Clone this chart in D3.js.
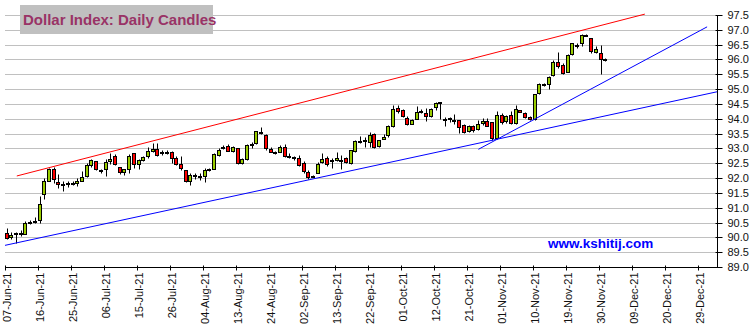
<!DOCTYPE html>
<html>
<head>
<meta charset="utf-8">
<script src="https://cdn.jsdelivr.net/npm/d3@7"></script>
<style>
  html, body { margin: 0; padding: 0; background: #ffffff; }
  svg { display: block; font-family: "Liberation Sans", Arial, sans-serif; }
</style>
</head>
<body>
<svg id="chart" width="753" height="334"></svg>
<script>
// Dollar Index daily candles, trading days from 07-Jun-21 (index 0) to 01-Dec-21
const opens = [
  90.13, 90.00, 90.13, 90.12, 90.11, 90.52, 90.53, 90.59, 91.47, 91.89,
  92.29, 91.88, 91.80, 91.84, 91.84, 91.83, 91.89, 92.09, 92.45, 92.58,
  92.27, 92.31, 92.57, 92.73, 92.38, 92.20, 92.30, 92.83, 92.46, 92.60,
  92.72, 92.92, 92.99, 92.88, 92.87, 92.88, 92.67, 92.48, 92.28, 91.90,
  92.08, 92.08, 92.07, 92.28, 92.30, 92.79, 93.04, 93.09, 92.90, 93.01,
  92.51, 92.64, 93.15, 93.18, 93.54, 93.44, 92.99, 92.87, 92.88, 93.04,
  92.73, 92.70, 92.67, 92.50, 92.21, 92.05, 92.20, 92.54, 92.69, 92.60,
  92.60, 92.60, 92.66, 92.49, 92.90, 93.24, 93.26, 93.22, 93.48, 93.09,
  93.33, 93.44, 93.75, 94.35, 94.28, 94.01, 93.84, 94.01, 94.24, 94.21,
  94.07, 94.38, 94.56, 93.99, 94.00, 93.95, 93.96, 93.80, 93.59, 93.75,
  93.64, 93.87, 93.94, 93.89, 93.35, 94.12, 93.92, 94.12, 93.87, 94.31,
  94.21, 94.06, 93.98, 94.85, 95.16, 95.16, 95.47, 95.93, 95.81, 95.59,
  96.18, 96.47, 96.55, 96.83, 96.72, 96.24, 96.21, 96.01
];
const highs = [
  90.30, 90.17, 90.19, 90.25, 90.55, 90.59, 90.70, 91.40, 92.00, 92.34,
  92.38, 92.15, 91.89, 91.91, 91.89, 92.00, 92.23, 92.51, 92.65, 92.58,
  92.32, 92.65, 92.85, 92.80, 92.38, 92.32, 92.80, 92.85, 92.65, 92.74,
  93.05, 93.19, 93.19, 92.96, 92.93, 92.90, 92.73, 92.75, 92.28, 92.16,
  92.16, 92.16, 92.33, 92.33, 92.84, 93.01, 93.13, 93.16, 93.07, 93.01,
  92.67, 93.15, 93.21, 93.60, 93.73, 93.47, 93.04, 92.92, 93.10, 93.15,
  92.84, 92.73, 92.79, 92.56, 92.28, 92.11, 92.54, 92.83, 92.74, 92.69,
  92.88, 92.77, 92.71, 92.96, 93.28, 93.43, 93.39, 93.54, 93.53, 93.30,
  93.47, 93.79, 94.45, 94.47, 94.32, 94.09, 93.98, 94.43, 94.32, 94.35,
  94.35, 94.58, 94.57, 94.07, 94.05, 94.16, 93.96, 93.84, 93.78, 93.78,
  93.95, 94.01, 94.01, 93.89, 94.25, 94.18, 94.12, 94.25, 94.48, 94.31,
  94.23, 94.10, 94.85, 95.19, 95.19, 95.44, 95.98, 96.24, 95.87, 96.18,
  96.57, 96.55, 96.86, 96.85, 96.74, 96.44, 96.49, 96.05
];
const lows = [
  89.93, 89.96, 89.82, 90.04, 90.11, 90.45, 90.47, 90.47, 91.30, 91.89,
  91.83, 91.66, 91.55, 91.70, 91.78, 91.74, 91.89, 92.04, 92.38, 92.26,
  92.17, 92.06, 92.48, 92.43, 92.15, 92.12, 92.17, 92.34, 92.31, 92.58,
  92.68, 92.89, 92.74, 92.79, 92.81, 92.50, 92.45, 92.28, 91.88, 91.77,
  91.97, 91.94, 91.86, 92.24, 92.30, 92.76, 92.99, 92.90, 92.88, 92.48,
  92.49, 92.62, 93.01, 93.16, 93.47, 92.96, 92.88, 92.81, 92.87, 92.70,
  92.67, 92.62, 92.39, 92.16, 91.98, 92.02, 92.17, 92.52, 92.40, 92.35,
  92.57, 92.32, 92.52, 92.49, 92.88, 93.19, 93.05, 93.05, 93.00, 93.05,
  93.31, 93.39, 93.73, 94.18, 94.05, 93.79, 93.82, 93.98, 94.18, 93.94,
  94.05, 94.30, 94.00, 93.77, 93.90, 93.84, 93.53, 93.53, 93.55, 93.55,
  93.61, 93.78, 93.76, 93.27, 93.33, 93.84, 93.86, 93.82, 93.84, 94.23,
  94.03, 93.95, 93.95, 94.83, 95.11, 95.00, 95.45, 95.70, 95.51, 95.59,
  96.15, 96.38, 96.46, 96.80, 96.21, 96.21, 95.50, 95.96
];
const closes = [
  89.96, 90.08, 90.12, 90.13, 90.47, 90.53, 90.56, 91.12, 91.91, 92.29,
  91.95, 91.80, 91.79, 91.83, 91.85, 91.91, 92.04, 92.45, 92.62, 92.30,
  92.26, 92.55, 92.65, 92.45, 92.20, 92.30, 92.75, 92.46, 92.60, 92.70,
  92.90, 92.99, 92.79, 92.87, 92.86, 92.67, 92.47, 92.33, 91.90, 92.11,
  92.09, 92.07, 92.27, 92.29, 92.81, 92.96, 93.05, 92.93, 93.05, 92.50,
  92.65, 93.12, 93.16, 93.58, 93.49, 92.99, 92.90, 92.88, 93.06, 92.72,
  92.72, 92.69, 92.45, 92.22, 92.04, 92.07, 92.49, 92.63, 92.49, 92.61,
  92.66, 92.61, 92.54, 92.94, 93.24, 93.25, 93.27, 93.45, 93.05, 93.28,
  93.39, 93.75, 94.32, 94.24, 94.07, 93.81, 93.96, 94.24, 94.25, 94.11,
  94.32, 94.52, 94.52, 94.00, 94.01, 93.96, 93.73, 93.55, 93.75, 93.63,
  93.81, 93.93, 93.78, 93.35, 94.12, 93.89, 94.09, 93.86, 94.34, 94.25,
  94.06, 93.98, 94.83, 95.16, 95.17, 95.40, 95.90, 95.81, 95.53, 96.15,
  96.55, 96.48, 96.83, 96.81, 96.27, 96.34, 96.01, 96.00
];

// Date labels, one every seven trading days
const tickLabels = [
  "07-Jun-21", "16-Jun-21", "25-Jun-21", "06-Jul-21", "15-Jul-21", "26-Jul-21",
  "04-Aug-21", "13-Aug-21", "24-Aug-21", "02-Sep-21", "13-Sep-21", "22-Sep-21",
  "01-Oct-21", "12-Oct-21", "21-Oct-21", "01-Nov-21", "10-Nov-21", "19-Nov-21",
  "30-Nov-21", "09-Dec-21", "20-Dec-21", "29-Dec-21"
];
const tickStep = 7;

// Price scale labels
const priceTicks = [89.0, 89.5, 90.0, 90.5, 91.0, 91.5, 92.0, 92.5, 93.0, 93.5,
                    94.0, 94.5, 95.0, 95.5, 96.0, 96.5, 97.0, 97.5];

// Trend lines: [trading-day index, price] end points
const upperChannel = [[2.5, 92.07], [135.7, 97.53]];
const lowerChannel = [[0.0, 89.73], [151.0, 94.91]];
const novemberSupport = [[100.4, 92.97], [148.9, 97.10]];

const title = "Dollar Index: Daily Candles";
const site = "www.kshitij.com";

const candles = opens.map((o, i) => ({ i, o, h: highs[i], l: lows[i], c: closes[i] }));

const svg = d3.select("#chart");

const x = d3.scaleLinear().domain([0, 151]).range([5, 717]);
const y = d3.scaleLinear().domain([89, 97.5]).range([267, 15]);
const candleX = i => Math.round(x(i) + 1.5);
const py = v => Math.round(y(v)) + 0.5;

// Horizontal grid
svg.append("g")
  .selectAll("line")
  .data(priceTicks.filter(v => v > 89))
  .join("line")
  .attr("x1", x(0)).attr("x2", x(151))
  .attr("y1", d => py(d)).attr("y2", d => py(d))
  .attr("stroke", "#c0c0c0").attr("stroke-width", 1);

// Title panel
const titleG = svg.append("g");
titleG.append("rect")
  .attr("x", 20).attr("y", 5).attr("width", 193).attr("height", 29)
  .attr("fill", "#c0c0c0");
titleG.append("text")
  .attr("x", 23).attr("y", 25)
  .attr("font-size", 15).attr("font-weight", "bold")
  .attr("fill", "#993366")
  .text(title);

// Candles
const cg = svg.append("g");
cg.selectAll("line.wick")
  .data(candles)
  .join("line")
  .attr("class", "wick")
  .attr("x1", d => candleX(d.i) + 0.5).attr("x2", d => candleX(d.i) + 0.5)
  .attr("y1", d => py(d.h)).attr("y2", d => py(d.l))
  .attr("stroke", "#000").attr("stroke-width", 1);

cg.selectAll("rect.body")
  .data(candles)
  .join("rect")
  .attr("class", "body")
  .attr("x", d => candleX(d.i) - 1.5)
  .attr("width", 3)
  .attr("y", d => py(Math.max(d.o, d.c)))
  .attr("height", d => Math.max(1, Math.round(Math.abs(y(d.o) - y(d.c)))))
  .attr("fill", d => d.c >= d.o ? "#99cc00" : "#ff0000")
  .attr("stroke", "#000").attr("stroke-width", 1);

// Trend lines
const trend = d3.line().x(d => x(d[0])).y(d => y(d[1]));
svg.append("path").datum(upperChannel).attr("d", trend)
  .attr("fill", "none").attr("stroke", "#ff0000").attr("stroke-width", 1);
svg.append("path").datum(lowerChannel).attr("d", trend)
  .attr("fill", "none").attr("stroke", "#0000ff").attr("stroke-width", 1);
svg.append("path").datum(novemberSupport).attr("d", trend)
  .attr("fill", "none").attr("stroke", "#0000ff").attr("stroke-width", 1);

// Date axis
const xAxisY = py(89);
const xa = svg.append("g");
xa.append("line")
  .attr("x1", x(0)).attr("x2", x(151) + 0.5)
  .attr("y1", xAxisY).attr("y2", xAxisY)
  .attr("stroke", "#000");
const xt = xa.selectAll("g.tick")
  .data(tickLabels)
  .join("g")
  .attr("class", "tick")
  .attr("transform", (d, k) => `translate(${Math.round(x(k * tickStep)) + 0.5},0)`);
xt.append("line")
  .attr("y1", xAxisY - 2).attr("y2", xAxisY + 3)
  .attr("stroke", "#000");
xt.append("text")
  .attr("transform", `translate(1.5,${xAxisY + 5}) rotate(-90)`)
  .attr("text-anchor", "end")
  .attr("dy", "0.35em")
  .attr("font-size", 11)
  .attr("fill", "#111")
  .text(d => d);

// Price axis on the right
const ya = svg.append("g");
const yAxisX = Math.round(x(151)) + 0.5;
ya.append("line")
  .attr("x1", yAxisX).attr("x2", yAxisX)
  .attr("y1", py(97.5)).attr("y2", xAxisY)
  .attr("stroke", "#000");
const yt = ya.selectAll("g.tick")
  .data(priceTicks)
  .join("g")
  .attr("class", "tick")
  .attr("transform", d => `translate(0,${py(d)})`);
yt.append("line")
  .attr("x1", yAxisX - 2).attr("x2", yAxisX + 5)
  .attr("stroke", "#000");
yt.append("text")
  .attr("x", yAxisX + 10)
  .attr("dy", "0.35em")
  .attr("font-size", 11)
  .attr("fill", "#111")
  .text(d => d.toFixed(1));

// Site mark
svg.append("text")
  .attr("x", 548).attr("y", 248)
  .attr("font-size", 13.5).attr("font-weight", "bold")
  .attr("fill", "#0000ff")
  .text(site);
</script>
</body>
</html>
